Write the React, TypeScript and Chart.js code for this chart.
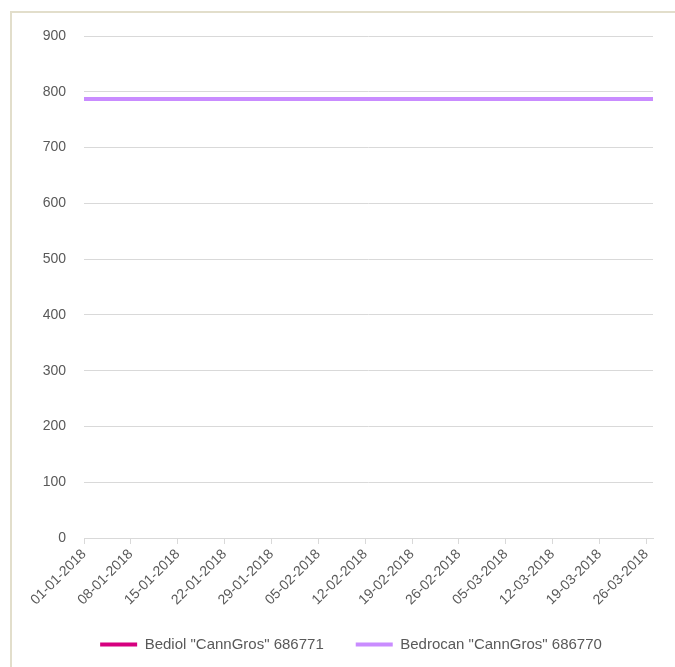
import React, { useEffect, useRef } from "react";
import { Chart, registerables } from "chart.js";

Chart.register(...registerables);

const dates: string[] = [
  "2018-01-01", "2018-01-08", "2018-01-15", "2018-01-22", "2018-01-29",
  "2018-02-05", "2018-02-12", "2018-02-19", "2018-02-26", "2018-03-05",
  "2018-03-12", "2018-03-19", "2018-03-26", "2018-03-27",
];
const bedrocanValues: number[] = [787, 787, 787, 787, 787, 787, 787, 787, 787, 787, 787, 787, 787, 787];
const bediolValues: (number | null)[] = [null, null, null, null, null, null, null, null, null, null, null, null, null, null];
const seriesNames: string[] = ['Bediol "CannGros" 686771', 'Bedrocan "CannGros" 686770'];
const yTicks = { min: 0, max: 900, step: 100 };
const xRange = { start: "2018-01-01", end: "2018-03-27", stepDays: 7 };

const DAY = 86400000;
const base = Date.UTC(2018, 0, 1);
const toDays = (s: string) => {
  const [y, m, d] = s.split("-").map(Number);
  return Math.round((Date.UTC(y, m - 1, d) - base) / DAY);
};
const fmt = (days: number) => {
  const dt = new Date(base + days * DAY);
  const dd = String(dt.getUTCDate()).padStart(2, "0");
  const mm = String(dt.getUTCMonth() + 1).padStart(2, "0");
  return `${dd}-${mm}-${dt.getUTCFullYear()}`;
};

const FONT = "'Liberation Sans', Arial, sans-serif";
const TEXT = "#595959";
const GRID = "#D9D9D9";

const shiftLegend = {
  id: "shiftLegend",
  afterLayout(chart: any) {
    if (chart.legend) chart.legend.left += 49;
  },
};

export default function App() {
  const ref = useRef<HTMLCanvasElement | null>(null);
  useEffect(() => {
    if (!ref.current) return;
    const chart = new Chart(ref.current, {
      type: "line",
      data: {
        datasets: [
          {
            label: seriesNames[0],
            data: dates.map((d, i) => ({ x: toDays(d), y: bediolValues[i] })),
            borderColor: "#D6007F",
            backgroundColor: "#D6007F",
            borderWidth: 4,
            pointRadius: 0,
          },
          {
            label: seriesNames[1],
            data: dates.map((d, i) => ({ x: toDays(d), y: bedrocanValues[i] })),
            borderColor: "#C98CFF",
            backgroundColor: "#C98CFF",
            borderWidth: 4,
            pointRadius: 0,
          },
        ],
      } as any,
      options: {
        animation: false,
        responsive: false,
        maintainAspectRatio: false,
        layout: { padding: { left: 0, right: 22, top: 36, bottom: 5 } },
        plugins: {
          tooltip: { enabled: false },
          legend: {
            position: "bottom",
            labels: {
              boxWidth: 37,
              boxHeight: 4,
              padding: 32,
              color: TEXT,
              font: { family: FONT, size: 15 },
              generateLabels: (c: any) =>
                Chart.defaults.plugins.legend.labels.generateLabels(c).map((l: any) => ({ ...l, lineWidth: 0 })),
            },
          },
        },
        scales: {
          x: {
            type: "linear",
            min: toDays(xRange.start),
            max: toDays(xRange.end),
            grid: { display: true, drawOnChartArea: false, drawTicks: true, tickLength: 6, color: GRID },
            border: { display: true, color: GRID },
            ticks: {
              stepSize: xRange.stepDays,
              includeBounds: false,
              autoSkip: false,
              minRotation: 45,
              maxRotation: 45,
              padding: 2,
              color: TEXT,
              font: { family: FONT, size: 14 },
              callback: (v: any) => fmt(Number(v)),
            },
            afterFit: (s: any) => { s.height = 67; },
          },
          y: {
            min: yTicks.min,
            max: yTicks.max,
            grid: { color: GRID, drawTicks: false },
            border: { display: false },
            ticks: {
              stepSize: yTicks.step,
              padding: 18,
              color: TEXT,
              font: { family: FONT, size: 14 },
            },
            afterFit: (s: any) => { s.width = 84; },
          },
        },
      } as any,
      plugins: [shiftLegend],
    });
    return () => chart.destroy();
  }, []);
  return (
    <div style={{ position: "fixed", left: 0, top: 0, width: 675, height: 667, overflow: "hidden", background: "#fff" }}>
      <div style={{ position: "absolute", left: 10, top: 11, width: 800, height: 800, borderLeft: "2px solid #E2DECB", borderTop: "2px solid #E2DECB" }} />
      <canvas ref={ref} width={675} height={667} style={{ position: "absolute", left: 0, top: 0 }} />
    </div>
  );
}
